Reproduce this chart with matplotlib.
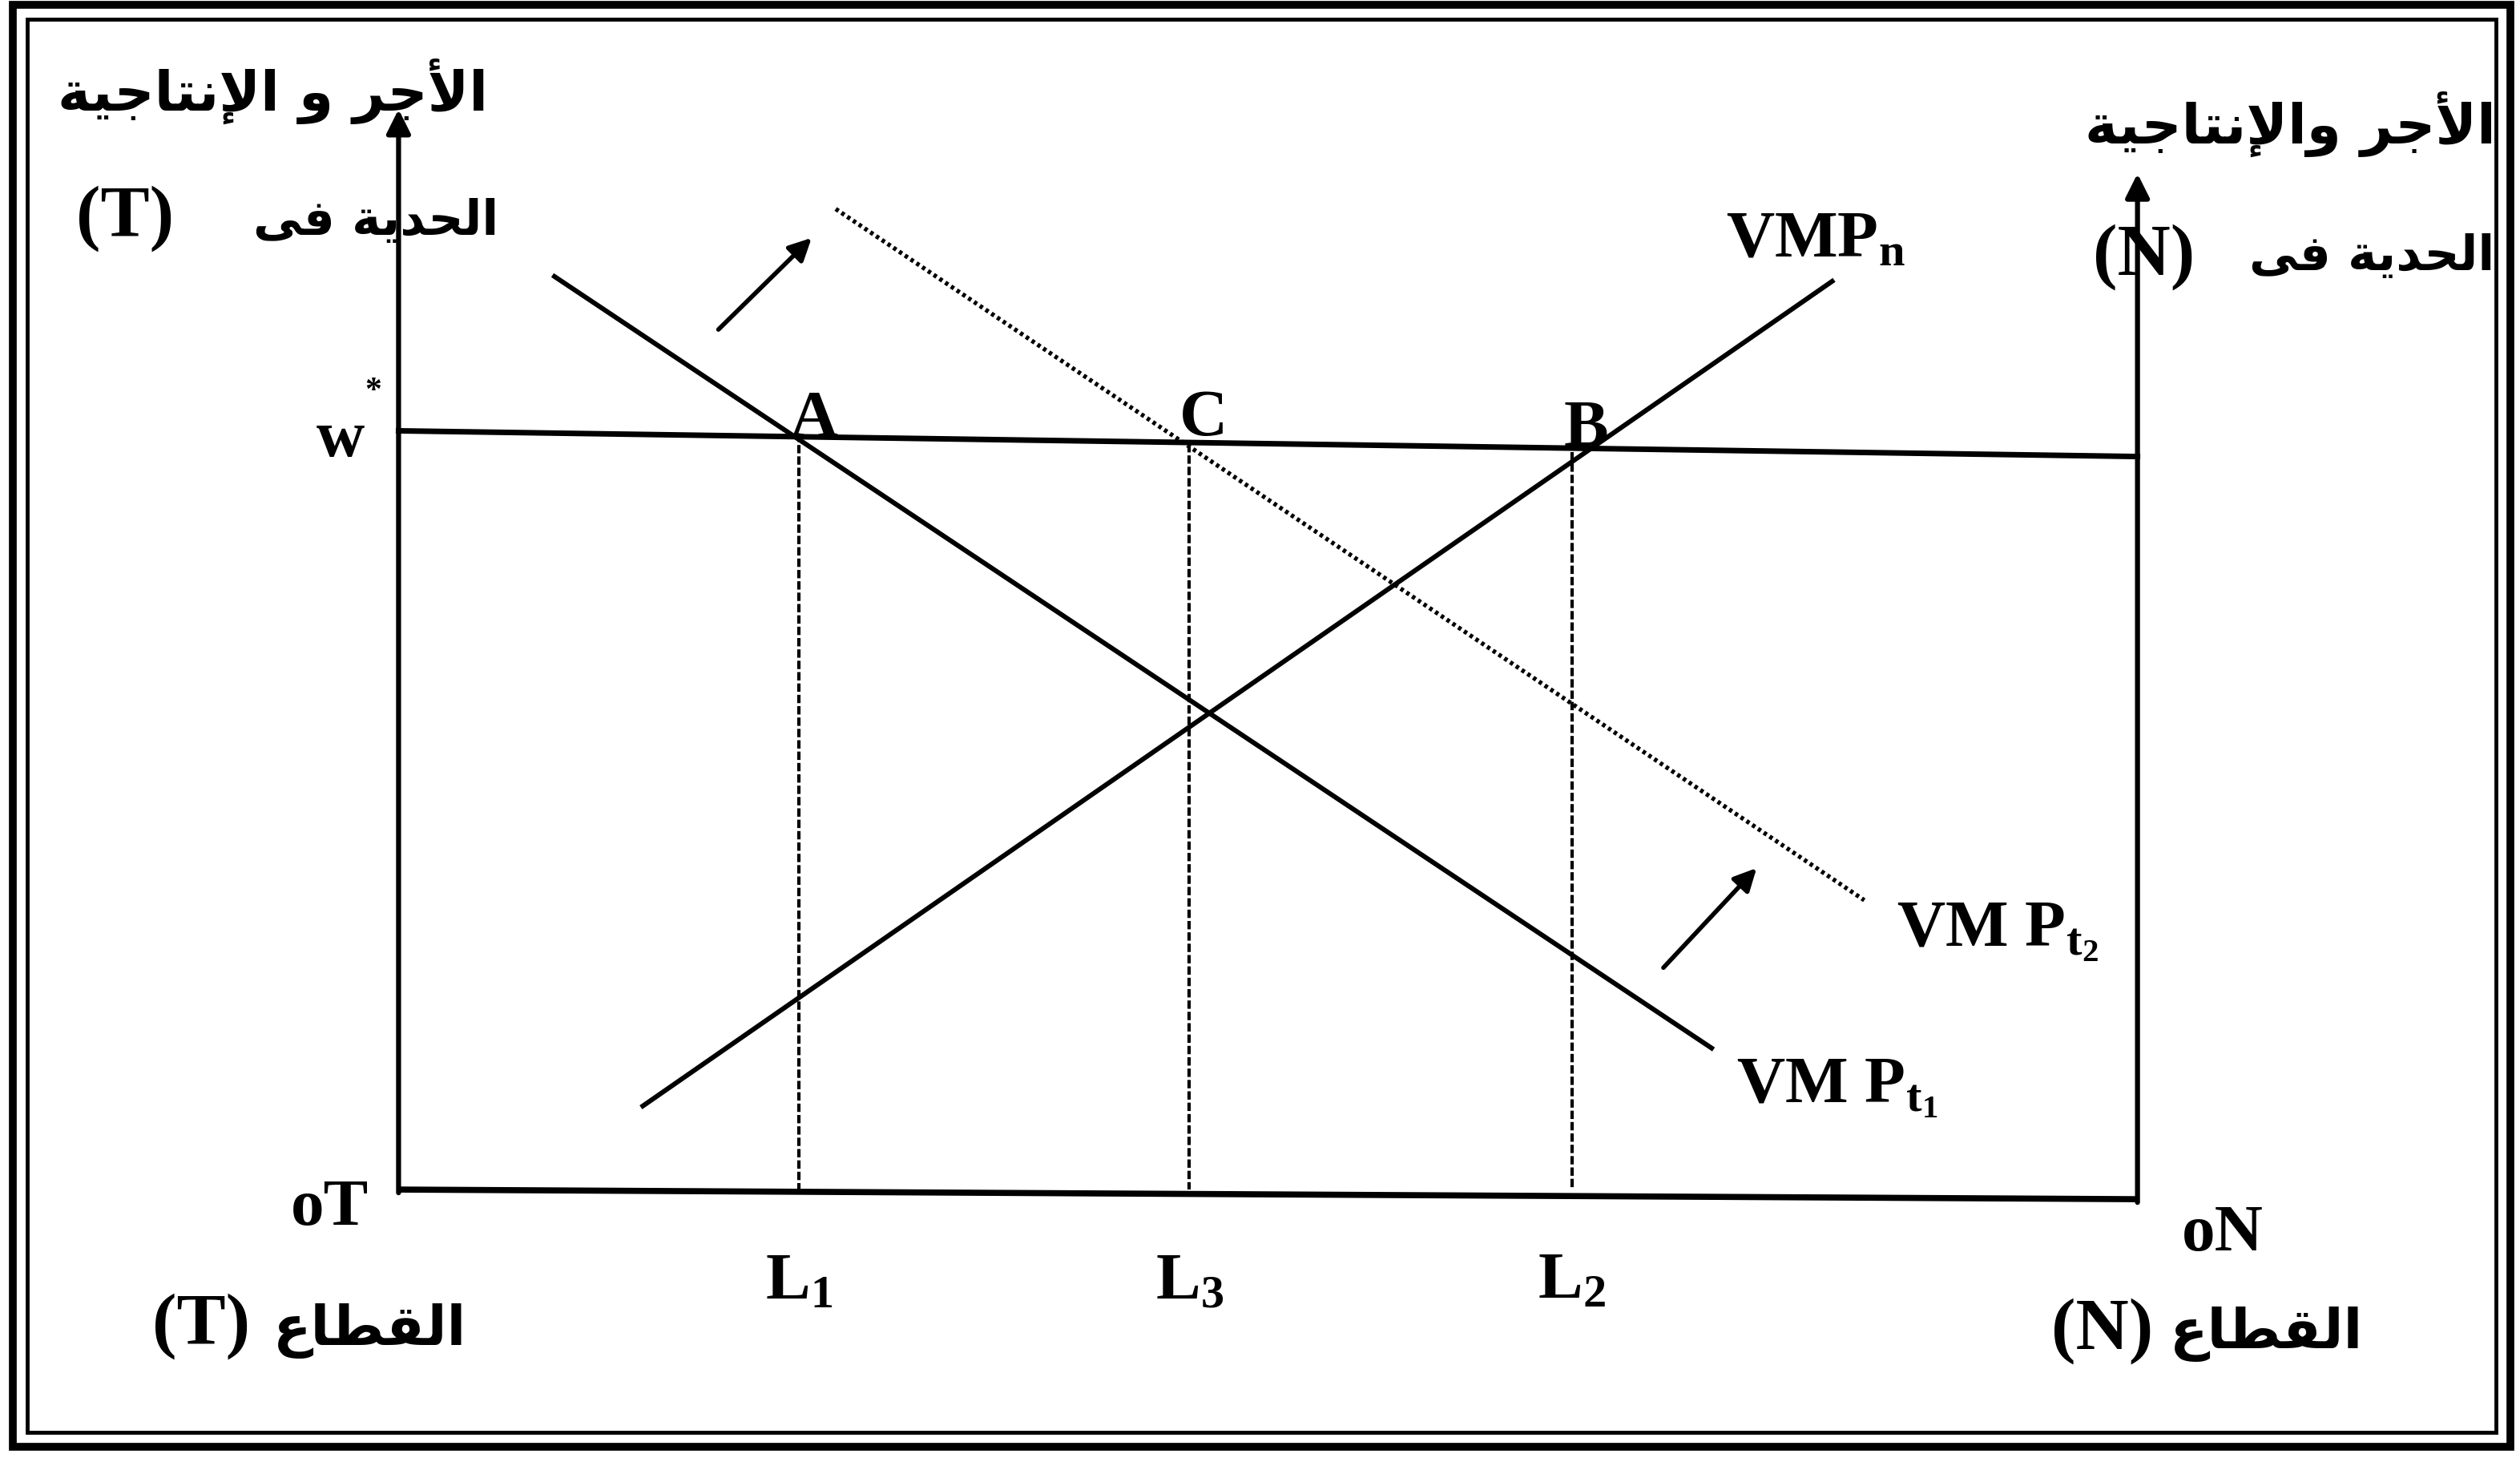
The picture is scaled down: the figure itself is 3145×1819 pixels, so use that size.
import matplotlib.pyplot as plt
from matplotlib.patches import Rectangle

# ---- diagram data (chart units: origin at oT, horizontal = labour, vertical = wage) ----
axis_len_n = 108.2                      # distance oT -> oN
w_star = [47.2, 45.6]                   # wage line height at oT and oN (scan is a bit skewed)
base_y = [0.0, -0.6]                    # labour axis height at oT and oN
left_top, right_top = 67.2, 63.2        # arrow tips of the two wage axes

vmp_t1_x, vmp_t1_y = [9.7, 81.7], [56.8, 8.8]
vmp_t2_x, vmp_t2_y = [27.2, 91.2], [61.0, 18.0]
vmp_n_x, vmp_n_y = [15.2, 89.2], [5.2, 56.5]

points = ['A', 'C', 'B']
point_x = [24.9, 49.2, 73.0]
point_y = [46.9, 46.9, 46.3]
l_names = ['L$_1$', 'L$_3$', 'L$_2$']
l_x = [24.9, 49.2, 73.0]
l_top = [47.0, 46.4, 45.9]

shift_arrows = [((19.9, 53.5), (25.7, 59.2)), ((78.7, 13.8), (84.5, 20.0))]

ar_wage = 'الأجر و الإنتاجية'
ar_wage_n = 'الأجر والإنتاجية'
ar_marginal = 'الحدية فى'
ar_sector = 'القطاع'

# ---- minimal arabic shaping (matplotlib has no text shaping) ----
FORMS = {  # isolated, final, initial, medial
    'ا': ('\ufe8d', '\ufe8e', None, None),
    'أ': ('\ufe83', '\ufe84', None, None),
    'إ': ('\ufe87', '\ufe88', None, None),
    'ل': ('\ufedd', '\ufede', '\ufedf', '\ufee0'),
    'ج': ('\ufe9d', '\ufe9e', '\ufe9f', '\ufea0'),
    'ر': ('\ufead', '\ufeae', None, None),
    'و': ('\ufeed', '\ufeee', None, None),
    'ن': ('\ufee5', '\ufee6', '\ufee7', '\ufee8'),
    'ت': ('\ufe95', '\ufe96', '\ufe97', '\ufe98'),
    'ي': ('\ufef1', '\ufef2', '\ufef3', '\ufef4'),
    'ة': ('\ufe93', '\ufe94', None, None),
    'ح': ('\ufea1', '\ufea2', '\ufea3', '\ufea4'),
    'د': ('\ufea9', '\ufeaa', None, None),
    'ف': ('\ufed1', '\ufed2', '\ufed3', '\ufed4'),
    'ى': ('\ufeef', '\ufef0', None, None),
    'ق': ('\ufed5', '\ufed6', '\ufed7', '\ufed8'),
    'ط': ('\ufec1', '\ufec2', '\ufec3', '\ufec4'),
    'ع': ('\ufec9', '\ufeca', '\ufecb', '\ufecc'),
}
LAM_ALEF = {'ا': ('\ufefb', '\ufefc'), 'أ': ('\ufef7', '\ufef8'), 'إ': ('\ufef9', '\ufefa')}


def shape(text):
    units = []
    i = 0
    while i < len(text):
        if text[i] == 'ل' and i + 1 < len(text) and text[i + 1] in LAM_ALEF:
            units.append(('LA', text[i + 1]))
            i += 2
        else:
            units.append(('C', text[i]))
            i += 1

    def joins_next(u):
        return u is not None and u[0] == 'C' and u[1] in FORMS and FORMS[u[1]][2] is not None

    def is_letter(u):
        return u is not None and (u[0] == 'LA' or u[1] in FORMS)

    out = []
    for k, (kind, c) in enumerate(units):
        prev = units[k - 1] if k > 0 else None
        nxt = units[k + 1] if k + 1 < len(units) else None
        jp = joins_next(prev)
        if kind == 'LA':
            out.append(LAM_ALEF[c][1 if jp else 0])
            continue
        if c not in FORMS:
            out.append(c)
            continue
        f = FORMS[c]
        jn = f[2] is not None and is_letter(nxt)
        if jp and jn:
            out.append(f[3])
        elif jp:
            out.append(f[1])
        elif jn:
            out.append(f[2])
        else:
            out.append(f[0])
    return ''.join(reversed(out))


plt.rcParams['mathtext.fontset'] = 'custom'
plt.rcParams['mathtext.rm'] = 'Liberation Serif:bold'
plt.rcParams['mathtext.it'] = 'Liberation Serif:bold'
plt.rcParams['mathtext.bf'] = 'Liberation Serif:bold'

fig = plt.figure(figsize=(31.45, 18.19), dpi=100)
ax = fig.add_axes([0, 0, 1, 1])
ax.set_xlim(-24.8, 132.0)
ax.set_ylim(-16.7, 74.0)
ax.axis('off')

serif = dict(family='Liberation Serif', weight='bold', color='black')
arab = dict(family=['DejaVu Sans'], weight='bold', color='black')
lat = 60
arfs = 50
arfs2 = 44

# double frame
ax.add_patch(Rectangle((-24.0, -16.0), 155.4, 89.7, fill=False, lw=7, ec='black'))
ax.add_patch(Rectangle((-23.1, -15.1), 153.6, 87.9, fill=False, lw=3.5, ec='black'))

# axes
ax.plot([0, axis_len_n], base_y, color='black', lw=5.5, solid_capstyle='butt')
ax.annotate('', xy=(0, left_top), xytext=(0, base_y[0] - 0.2),
            arrowprops=dict(arrowstyle='-|>', lw=4.5, color='black', mutation_scale=45,
                            shrinkA=0, shrinkB=0))
ax.annotate('', xy=(axis_len_n, right_top), xytext=(axis_len_n, base_y[1] - 0.2),
            arrowprops=dict(arrowstyle='-|>', lw=4.5, color='black', mutation_scale=45,
                            shrinkA=0, shrinkB=0))

# wage line and curves
ax.plot([0, axis_len_n], w_star, color='black', lw=5)
ax.plot(vmp_t1_x, vmp_t1_y, color='black', lw=4.3)
ax.plot(vmp_n_x, vmp_n_y, color='black', lw=4.3)
ax.plot(vmp_t2_x, vmp_t2_y, color='black', lw=3.9, linestyle=(0, (0.8, 0.8)))

for x, top in zip(l_x, l_top):
    ax.plot([x, x], [top, base_y[0]], color='black', lw=3.0, linestyle=(0, (2.5, 0.9)))

for start, end in shift_arrows:
    ax.annotate('', xy=end, xytext=start,
                arrowprops=dict(arrowstyle='-|>', lw=4, color='black', mutation_scale=42,
                                shrinkA=0, shrinkB=0))

# labels
for name, x, y in zip(points, point_x, point_y):
    ax.text(x + 0.9, y, name, fontsize=lat, ha='center', va='baseline', **serif)
for name, x in zip(l_names, l_x):
    ax.text(x, -5.8, name, fontsize=lat, ha='center', va='center', **serif)

ax.text(-3.6, 46.6, 'w', fontsize=lat, ha='center', va='center', **serif)
ax.text(-1.6, 49.6, '*', fontsize=30, ha='center', va='center', **serif)
ax.text(-4.3, -1.2, 'oT', fontsize=lat, ha='center', va='center', **serif)
ax.text(113.5, -2.8, 'oN', fontsize=lat, ha='center', va='center', **serif)
ax.text(88.2, 59.0, r'VMP$_{\mathrm{n}}$', fontsize=lat, ha='center', va='center', **serif)
ax.text(99.5, 16.0, r'VM P$_{\mathrm{t_2}}$', fontsize=lat, ha='center', va='center', **serif)
ax.text(89.5, 6.3, r'VM P$_{\mathrm{t_1}}$', fontsize=lat, ha='center', va='center', **serif)

# arabic labels
ax.text(-7.8, 68.3, shape(ar_wage), fontsize=arfs, ha='center', va='center', **arab)
ax.text(-1.4, 60.2, shape(ar_marginal), fontsize=arfs2, ha='center', va='center', **arab)
ax.text(-17.0, 60.4, '(T)', fontsize=66, ha='center', va='center', **serif)

ax.text(117.7, 66.3, shape(ar_wage_n), fontsize=arfs, ha='center', va='center', **arab)
ax.text(122.8, 58.0, shape(ar_marginal), fontsize=arfs2, ha='center', va='center', **arab)
ax.text(108.6, 58.0, '(N)', fontsize=66, ha='center', va='center', **serif)

ax.text(-1.8, -8.8, shape(ar_sector), fontsize=arfs, ha='center', va='center', **arab)
ax.text(-12.3, -8.5, '(T)', fontsize=66, ha='center', va='center', **serif)
ax.text(116.2, -9.0, shape(ar_sector), fontsize=arfs, ha='center', va='center', **arab)
ax.text(106.0, -8.8, '(N)', fontsize=66, ha='center', va='center', **serif)

fig.savefig('out.png', dpi=100, facecolor='white')
